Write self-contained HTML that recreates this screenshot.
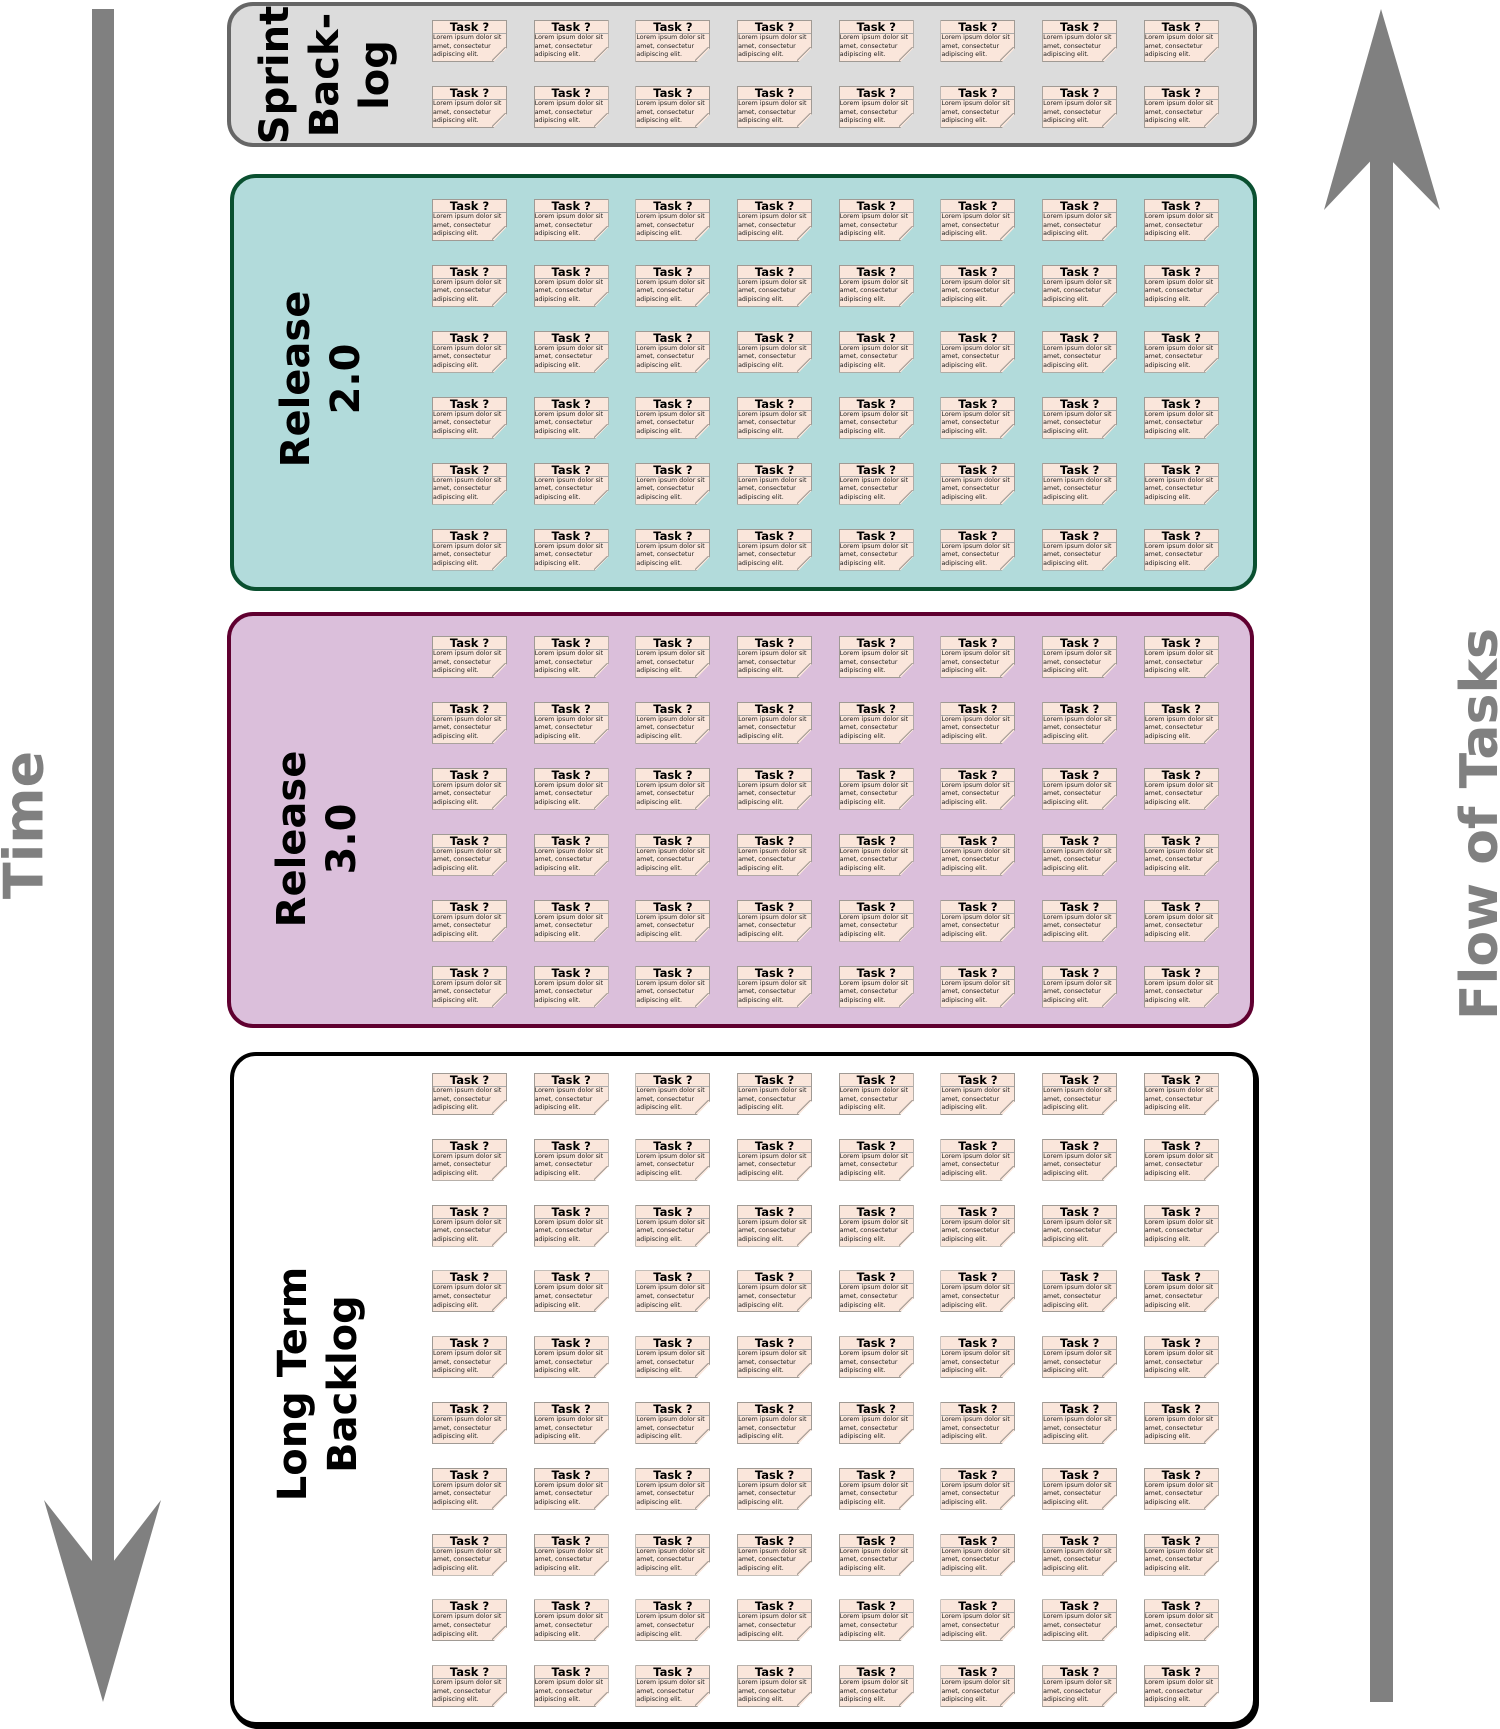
<!DOCTYPE html>
<html><head><meta charset="utf-8"><style>
body{margin:0;width:1500px;height:1729px;position:relative;overflow:hidden;background:#fff;font-family:"DejaVu Sans","Liberation Sans",sans-serif}
.box{position:absolute;border-radius:26px;box-sizing:border-box}
.lbl{position:absolute;font-weight:bold;text-align:center;white-space:nowrap;transform:translate(-50%,-50%) rotate(-90deg)}
.r{position:absolute;left:432px;display:flex;gap:26.7px}
.r i{display:block;position:relative;width:73px;height:40px;border:1px solid #a09a94;background:#fae6db;font-style:normal;font-size:6.3px;line-height:8.6px;color:#222;white-space:nowrap;overflow:hidden;clip-path:polygon(0 0,100% 0,100% 66%,82% 100%,0 100%)}
.r i b{display:block;text-align:center;font-size:11.5px;line-height:12px;color:#000;border-bottom:1px solid #aaa}
.r i:after{content:"";position:absolute;right:0;bottom:0;width:14px;height:14px;background:linear-gradient(to top left,transparent 49%,#8a8580 50%,#fae6db 57%)}
</style></head><body>
<svg width="1500" height="1729" style="position:absolute;left:0;top:0">
<rect x="92" y="9" width="22" height="1576" fill="#808080"/>
<polygon points="44,1500 103,1702 161,1500 103,1575" fill="#808080"/>
<rect x="1370" y="140" width="23" height="1562" fill="#808080"/>
<polygon points="1324,210 1381,9 1440,210 1381,150" fill="#808080"/>
</svg>
<div class="lbl" style="left:24px;top:825px;font-size:54px;color:#808080">Time</div>
<div class="lbl" style="left:1480px;top:824px;font-size:52px;color:#808080">Flow of Tasks</div>

<div class="box" style="left:227px;top:2px;width:1030px;height:145px;background:#dcdcdc;border:4px solid #666"></div>
<div class="box" style="left:230px;top:174px;width:1027px;height:417px;background:#b2dbdb;border:4px solid #0a5030"></div>
<div class="box" style="left:227px;top:612px;width:1027px;height:416px;background:#dbbfdb;border:4px solid #600030"></div>
<div class="box" style="left:230px;top:1052px;width:1027px;height:674px;background:#fff;border:4px solid #000;box-shadow:2px 3px 0 #000"></div>

<div class="lbl" style="left:325px;top:75px;font-size:40px;line-height:50px">Sprint<br>Back-<br>log</div>
<div class="lbl" style="left:321px;top:379px;font-size:40px;line-height:50px">Release<br>2.0</div>
<div class="lbl" style="left:317px;top:839px;font-size:40px;line-height:50px">Release<br>3.0</div>
<div class="lbl" style="left:318px;top:1384px;font-size:40px;line-height:50px">Long Term<br>Backlog</div>

<div id="rows">
<div class="r" style="top:20px"><i><b>Task ?</b>Lorem ipsum dolor sit<br>amet, consectetur<br>adipiscing elit.</i><i><b>Task ?</b>Lorem ipsum dolor sit<br>amet, consectetur<br>adipiscing elit.</i><i><b>Task ?</b>Lorem ipsum dolor sit<br>amet, consectetur<br>adipiscing elit.</i><i><b>Task ?</b>Lorem ipsum dolor sit<br>amet, consectetur<br>adipiscing elit.</i><i><b>Task ?</b>Lorem ipsum dolor sit<br>amet, consectetur<br>adipiscing elit.</i><i><b>Task ?</b>Lorem ipsum dolor sit<br>amet, consectetur<br>adipiscing elit.</i><i><b>Task ?</b>Lorem ipsum dolor sit<br>amet, consectetur<br>adipiscing elit.</i><i><b>Task ?</b>Lorem ipsum dolor sit<br>amet, consectetur<br>adipiscing elit.</i></div>
<div class="r" style="top:86px"><i><b>Task ?</b>Lorem ipsum dolor sit<br>amet, consectetur<br>adipiscing elit.</i><i><b>Task ?</b>Lorem ipsum dolor sit<br>amet, consectetur<br>adipiscing elit.</i><i><b>Task ?</b>Lorem ipsum dolor sit<br>amet, consectetur<br>adipiscing elit.</i><i><b>Task ?</b>Lorem ipsum dolor sit<br>amet, consectetur<br>adipiscing elit.</i><i><b>Task ?</b>Lorem ipsum dolor sit<br>amet, consectetur<br>adipiscing elit.</i><i><b>Task ?</b>Lorem ipsum dolor sit<br>amet, consectetur<br>adipiscing elit.</i><i><b>Task ?</b>Lorem ipsum dolor sit<br>amet, consectetur<br>adipiscing elit.</i><i><b>Task ?</b>Lorem ipsum dolor sit<br>amet, consectetur<br>adipiscing elit.</i></div>
</div>
<script>
(function(){
var row=document.querySelector('#rows .r').innerHTML,out='';
var tops=[];
for(var k=0;k<6;k++)tops.push(199+k*65.9);
for(k=0;k<6;k++)tops.push(636+k*65.9);
for(k=0;k<10;k++)tops.push(1073+k*65.8);
tops.forEach(function(t){out+='<div class="r" style="top:'+t+'px">'+row+'</div>';});
document.getElementById('rows').insertAdjacentHTML('beforeend',out);
})();
</script>
</body></html>
